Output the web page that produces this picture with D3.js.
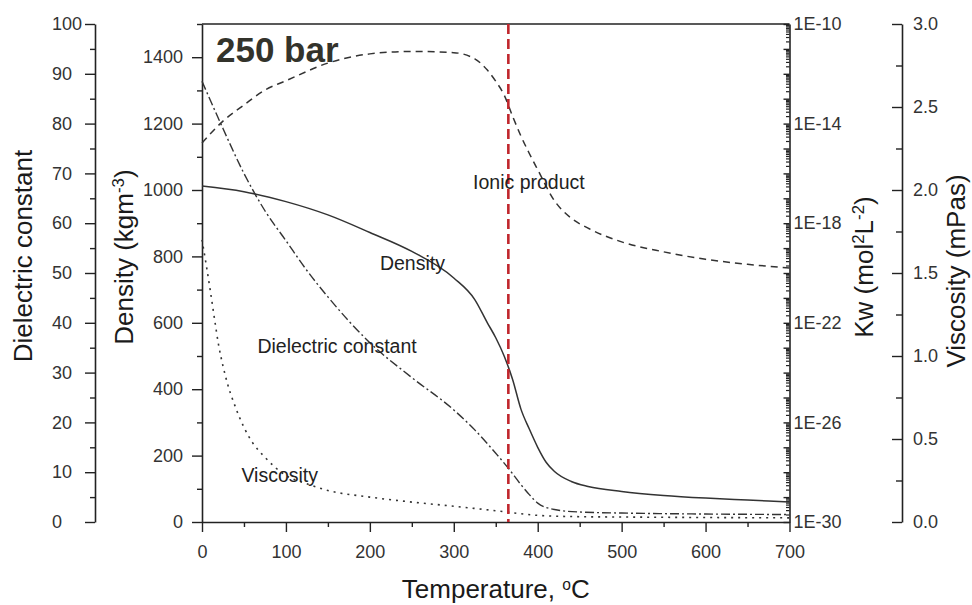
<!DOCTYPE html>
<html><head><meta charset="utf-8">
<script src="https://cdn.jsdelivr.net/npm/d3@7"></script>
<style>
body{margin:0;background:#fff;}
text{font-family:"Liberation Sans",Arial,sans-serif;}
</style></head>
<body><svg id="c" width="972" height="605"></svg>
<script>
// ---------- data ----------
const densityT   = [0,50,100,150,200,250,300,325,340,350,360,370,380,390,400,410,420,440,460,500,550,600,650,700];
const densityVal = [1012,995,965,925,872,815,735,670,600,555,500,430,340,280,225,180,152,122,107,92,80,72,66,60];

const kwT   = [0,25,50,75,100,150,200,250,300,325,340,350,360,370,380,390,400,420,440,460,500,550,600,650,700];
const kwLog = [-14.78,-13.9,-13.25,-12.65,-12.28,-11.57,-11.2,-11.1,-11.15,-11.4,-11.85,-12.3,-12.85,-13.7,-14.5,-15.2,-15.85,-17.1,-17.8,-18.2,-18.75,-19.15,-19.45,-19.65,-19.8];

const dielT   = [0,25,50,75,100,125,150,200,250,300,325,350,365,380,390,400,420,450,500,600,700];
const dielVal = [88.5,79,70,62.5,56.5,50.5,45.2,36,29,22.5,18.5,13.8,10.8,7.5,5.5,3.8,2.5,2.0,1.8,1.6,1.5];

const viscT   = [0,5,10,15,20,25,30,40,50,60,75,100,125,150,200,250,300,350,400,450,500,600,700];
const viscVal = [1.70,1.55,1.39,1.22,1.06,0.94,0.84,0.69,0.57,0.48,0.39,0.28,0.23,0.19,0.15,0.12,0.095,0.068,0.04,0.032,0.03,0.027,0.025];

const criticalT = 365;

const xTicks = [0,100,200,300,400,500,600,700];
const dielTicks = [0,10,20,30,40,50,60,70,80,90,100];
const densTicks = [0,200,400,600,800,1000,1200,1400];
const kwLabelExp = [-10,-14,-18,-22,-26,-30];
const viscTicks = [0,0.5,1.0,1.5,2.0,2.5,3.0];

const curveLabels = [
  {text:"Ionic product", T:323, dens:1003},
  {text:"Density", T:212, dens:760},
  {text:"Dielectric constant", T:66, dens:510},
  {text:"Viscosity", T:47, dens:120}
];

// ---------- layout ----------
const svg = d3.select("#c");
const pTop = 24, pBot = 522, pLeft = 202, pRight = 789.5;
const ink = "#222", tickFont = 18, titleFont = 26;

const x = d3.scaleLinear().domain([0,700]).range([pLeft,pRight]);
const yDens = d3.scaleLinear().domain([0,1500]).range([pBot,pTop]);
const yDiel = d3.scaleLinear().domain([0,100]).range([pBot,pTop]);
const yKw = d3.scaleLog().domain([1e-30,1e-10]).range([pBot,pTop]);
const yVisc = d3.scaleLinear().domain([0,3]).range([pBot,pTop]);

function styleAxis(g, size){
  g.select(".domain").attr("stroke",ink).attr("stroke-width",1.6);
  g.selectAll(".tick line").attr("stroke",ink).attr("stroke-width",1.4);
  g.selectAll(".tick text").attr("fill","#333").attr("font-size",size||tickFont)
    .attr("font-family","'Liberation Sans',Arial,sans-serif");
}

// top frame
svg.append("line").attr("x1",pLeft).attr("x2",pRight).attr("y1",pTop).attr("y2",pTop)
  .attr("stroke",ink).attr("stroke-width",1.6);

// x axis
const gx = svg.append("g").attr("transform",`translate(0,${pBot})`)
  .call(d3.axisBottom(x).tickValues(xTicks).tickSize(10).tickSizeOuter(0).tickPadding(13).tickFormat(d3.format("d")));
styleAxis(gx);
const gxm = svg.append("g").attr("transform",`translate(0,${pBot})`)
  .call(d3.axisBottom(x).tickValues(xTicks.slice(0,-1).map((d,i)=>(xTicks[i]+xTicks[i+1])/2)).tickSize(5).tickFormat(""));
styleAxis(gxm); gxm.select(".domain").remove();

// dielectric axis (labels left-aligned)
const gd = svg.append("g").attr("transform","translate(95,0)")
  .call(d3.axisLeft(yDiel).tickValues(dielTicks).tickSize(10).tickSizeOuter(0).tickPadding(12));
styleAxis(gd);
gd.selectAll(".tick text").attr("text-anchor","start").attr("x",-43);
const gdm = svg.append("g").attr("transform","translate(95,0)")
  .call(d3.axisLeft(yDiel).tickValues(dielTicks.slice(0,-1).map((d,i)=>(dielTicks[i]+dielTicks[i+1])/2)).tickSize(5).tickFormat(""));
styleAxis(gdm); gdm.select(".domain").remove();

// density axis
const gn = svg.append("g").attr("transform",`translate(${pLeft},0)`)
  .call(d3.axisLeft(yDens).tickValues(densTicks).tickSize(10).tickSizeOuter(0).tickPadding(9).tickFormat(d3.format("d")));
styleAxis(gn);
const gnm = svg.append("g").attr("transform",`translate(${pLeft},0)`)
  .call(d3.axisLeft(yDens).tickValues(densTicks.map(d=>d+100)).tickSize(5).tickFormat(""));
styleAxis(gnm); gnm.select(".domain").remove();

// Kw axis (log) — ticks inward, labels outside
const decades = d3.range(-30,-9).map(e=>Math.pow(10,e));
const gk = svg.append("g").attr("transform",`translate(${pRight},0)`)
  .call(d3.axisLeft(yKw).tickValues(decades).tickSize(6).tickSizeOuter(0).tickFormat(""));
styleAxis(gk);
const minors = [];
d3.range(-30,-10).forEach(e=>{ for(let k=2;k<=9;k++) minors.push(k*Math.pow(10,e)); });
const gkm = svg.append("g").attr("transform",`translate(${pRight},0)`)
  .call(d3.axisLeft(yKw).tickValues(minors).tickSize(3.5).tickFormat(""));
styleAxis(gkm); gkm.select(".domain").remove(); gkm.selectAll(".tick line").attr("stroke-width",1.2);
const gkl = svg.append("g").attr("transform",`translate(${pRight},0)`)
  .call(d3.axisRight(yKw).tickValues(kwLabelExp.map(e=>Math.pow(10,e))).tickSize(0).tickPadding(4)
    .tickFormat(d=>"1E"+Math.round(Math.log10(d))));
styleAxis(gkl); gkl.select(".domain").remove();

// viscosity axis
const gv = svg.append("g").attr("transform","translate(902,0)")
  .call(d3.axisLeft(yVisc).tickValues(viscTicks).tickSize(10).tickSizeOuter(0).tickFormat(""));
styleAxis(gv);
const gvm = svg.append("g").attr("transform","translate(902,0)")
  .call(d3.axisLeft(yVisc).tickValues(viscTicks.slice(0,-1).map((d,i)=>(viscTicks[i]+viscTicks[i+1])/2)).tickSize(6).tickFormat(""));
styleAxis(gvm); gvm.select(".domain").remove();
const gvl = svg.append("g").attr("transform","translate(902,0)")
  .call(d3.axisRight(yVisc).tickValues(viscTicks).tickSize(0).tickPadding(11).tickFormat(d3.format(".1f")));
styleAxis(gvl); gvl.select(".domain").remove();

// ---------- curves ----------
const lineCol = "#333";
function drawCurve(ts, vs, yScale, dash, w){
  const data = ts.map((t,i)=>[t,vs[i]]);
  svg.append("path").datum(data)
    .attr("d", d3.line().x(d=>x(d[0])).y(d=>yScale(d[1])).curve(d3.curveMonotoneX))
    .attr("fill","none").attr("stroke",lineCol).attr("stroke-width",w||1.4)
    .attr("stroke-dasharray",dash);
}
drawCurve(densityT, densityVal, yDens, null, 1.5);
drawCurve(kwT, kwLog.map(v=>Math.pow(10,v)), yKw, "7,5", 1.5);
drawCurve(dielT, dielVal, yDiel, "9,3,2,3", 1.4);
drawCurve(viscT, viscVal, yVisc, "2,5", 1.6);

// critical line
svg.append("line").attr("x1",x(criticalT)).attr("x2",x(criticalT)).attr("y1",pTop).attr("y2",pBot)
  .attr("stroke","#c0272d").attr("stroke-width",2.6).attr("stroke-dasharray","10,5");

// curve labels
curveLabels.forEach(l=>{
  svg.append("text").attr("x",x(l.T)).attr("y",yDens(l.dens))
    .attr("font-size",19.5).attr("fill","#222").text(l.text);
});

// pressure label
svg.append("text").attr("x",216).attr("y",62)
  .attr("font-family","'Open Sans','DejaVu Sans',sans-serif").attr("font-weight","bold")
  .attr("font-size",35).attr("fill","#33332b").text("250 bar");

// ---------- titles ----------
function rotTitle(cx, cy, parts){
  const t = svg.append("text").attr("transform",`translate(${cx},${cy}) rotate(-90)`)
    .attr("text-anchor","middle").attr("font-size",titleFont).attr("fill","#1a1a1a");
  parts.forEach(p=>{
    const s = t.append("tspan").text(p[0]);
    if(p[1]) s.attr("baseline-shift","super").attr("font-size",titleFont*0.65);
  });
}
rotTitle(32, 256, [["Dielectric constant"]]);
rotTitle(133, 257, [["Density (kgm"],["-3",true],[")"]]);
rotTitle(873, 267, [["Kw (mol"],["2",true],["L"],["-2",true],[")"]]);
rotTitle(965, 271, [["Viscosity (mPas)"]]);

const xt = svg.append("text").attr("x",(pLeft+pRight)/2).attr("y",598).attr("text-anchor","middle")
  .attr("font-size",titleFont).attr("fill","#1a1a1a");
xt.append("tspan").text("Temperature, ");
xt.append("tspan").text("o").attr("baseline-shift","super").attr("font-size",titleFont*0.6);
xt.append("tspan").text("C");
</script></body></html>
